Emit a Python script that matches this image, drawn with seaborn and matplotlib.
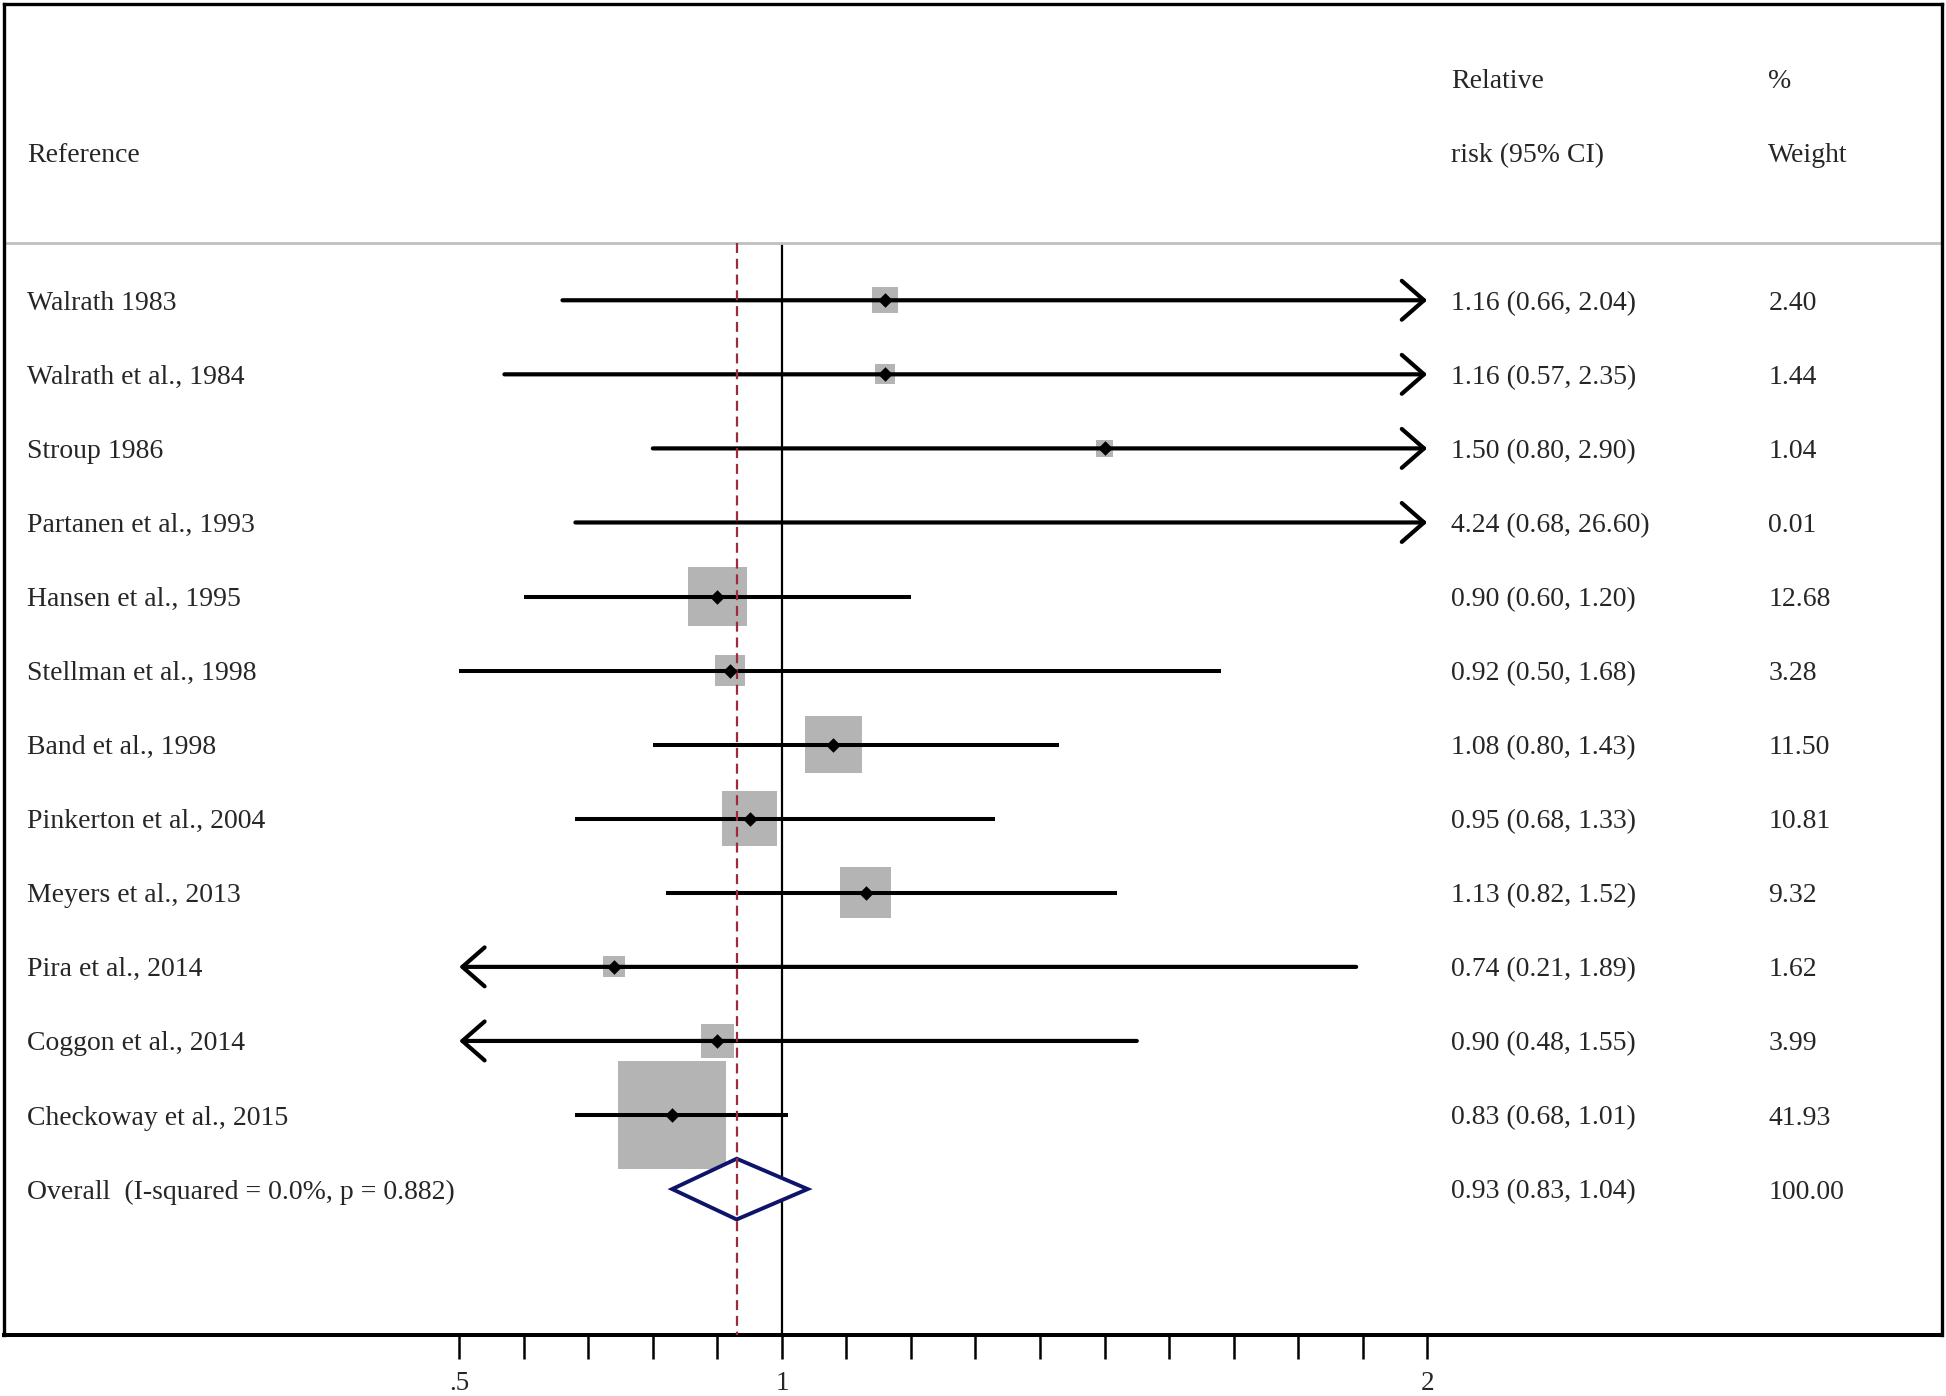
import numpy as np
import matplotlib
matplotlib.use('Agg')
import matplotlib.pyplot as plt
import seaborn as sns

# study-level data (relative risk, 95% CI, % weight)
studies = ['Walrath 1983', 'Walrath et al., 1984', 'Stroup 1986', 'Partanen et al., 1993',
           'Hansen et al., 1995', 'Stellman et al., 1998', 'Band et al., 1998',
           'Pinkerton et al., 2004', 'Meyers et al., 2013', 'Pira et al., 2014',
           'Coggon et al., 2014', 'Checkoway et al., 2015']
rr = [1.16, 1.16, 1.50, 4.24, 0.90, 0.92, 1.08, 0.95, 1.13, 0.74, 0.90, 0.83]
ci_low = [0.66, 0.57, 0.80, 0.68, 0.60, 0.50, 0.80, 0.68, 0.82, 0.21, 0.48, 0.68]
ci_high = [2.04, 2.35, 2.90, 26.60, 1.20, 1.68, 1.43, 1.33, 1.52, 1.89, 1.55, 1.01]
weights = [2.40, 1.44, 1.04, 0.01, 12.68, 3.28, 11.50, 10.81, 9.32, 1.62, 3.99, 41.93]

overall_label = 'Overall  (I-squared = 0.0%, p = 0.882)'
overall_rr = 0.93
overall_low = 0.83
overall_high = 1.04
overall_weight = 100.00

tick_values = [0.5, 0.6, 0.7, 0.8, 0.9, 1.0, 1.1, 1.2, 1.3, 1.4, 1.5, 1.6, 1.7, 1.8, 1.9, 2.0]
tick_labels = {0.5: '.5', 1.0: '1', 2.0: '2'}

x_min, x_max = 0.5, 2.0

sns.set_theme(style='white')
plt.rcParams['font.family'] = ['Liberation Serif', 'DejaVu Serif']

fig = plt.figure(figsize=(19.46, 13.96), dpi=100)
ax = fig.add_axes([0.00206, 0.0437, 0.99589, 0.95344])
ax.set_xlim(-0.2054, 2.7978)
ax.set_ylim(13.97, -4.0)

rows = np.arange(len(studies))
n = len(studies)
fs = 20
x_lab, x_rr, x_w = -0.1698, 2.0369, 2.5288
line_y = -0.77

# header
ax.text(x_lab, -2, 'Reference', fontsize=fs, va='center_baseline')
ax.text(x_rr, -3, 'Relative', fontsize=fs, va='center_baseline')
ax.text(x_rr, -2, 'risk (95% CI)', fontsize=fs, va='center_baseline')
ax.text(x_w, -3, '%', fontsize=fs, va='center_baseline')
ax.text(x_w, -2, 'Weight', fontsize=fs, va='center_baseline')
ax.axhline(line_y, color='#c0c0c0', lw=2.0)

# reference lines
ax.vlines(1.0, line_y, 13.97, color='black', lw=1.6, zorder=1)
ax.vlines(overall_rr, line_y, 13.97, color='#9b2d3a', lw=1.6,
          linestyles=(0, (4.5, 2.6)), zorder=4)

# weight boxes
rr_a = np.array(rr)
w_a = np.array(weights)
inside = (rr_a >= x_min) & (rr_a <= x_max)
sizes = 6050 * w_a[inside] / 41.93
sns.scatterplot(x=rr_a[inside], y=rows[inside], marker='s', s=sizes,
                color='#b4b4b4', linewidth=0, ax=ax, zorder=2, legend=False)

# confidence intervals
for i in range(n):
    lo, hi = ci_low[i], ci_high[i]
    lo_c, hi_c = max(lo, x_min), min(hi, x_max)
    left_arrow = lo < x_min
    right_arrow = hi > x_max
    if not left_arrow and not right_arrow:
        ax.plot([lo_c, hi_c], [i, i], color='black', lw=2.9,
                solid_capstyle='butt', zorder=3)
    else:
        if right_arrow and left_arrow:
            style, start, end = '<->', lo_c, hi_c
        elif right_arrow:
            style, start, end = '->', lo_c, hi_c
        else:
            style, start, end = '->', hi_c, lo_c
        ax.annotate('', xy=(end, i), xytext=(start, i),
                    arrowprops=dict(arrowstyle=style + ',head_length=16,head_width=14',
                                    mutation_scale=1, lw=3.0, color='black',
                                    shrinkA=0, shrinkB=0, capstyle='round'),
                    zorder=3)

# point estimates
sns.scatterplot(x=rr_a[inside], y=rows[inside], marker='D', s=55,
                color='black', linewidth=0, ax=ax, zorder=5, legend=False)

# overall diamond
oy = n
ax.fill([overall_low, overall_rr, overall_high, overall_rr],
        [oy, oy - 0.41, oy, oy + 0.41],
        facecolor='white', edgecolor='#0f146b', lw=2.8, joinstyle='miter', zorder=3)

# row texts
for i in range(n):
    ax.text(x_lab, i, studies[i], fontsize=fs, va='center_baseline')
    ax.text(x_rr, i, f'{rr[i]:.2f} ({ci_low[i]:.2f}, {ci_high[i]:.2f})',
            fontsize=fs, va='center_baseline')
    ax.text(x_w, i, f'{weights[i]:.2f}', fontsize=fs, va='center_baseline')
ax.text(x_lab, oy, overall_label, fontsize=fs, va='center_baseline')
ax.text(x_rr, oy, f'{overall_rr:.2f} ({overall_low:.2f}, {overall_high:.2f})',
        fontsize=fs, va='center_baseline')
ax.text(x_w, oy, f'{overall_weight:.2f}', fontsize=fs, va='center_baseline')

# axis
ax.set_xticks(tick_values)
ax.set_xticklabels([tick_labels.get(t, '') for t in tick_values])
ax.set_yticks([])
ax.tick_params(axis='x', bottom=True, direction='out', length=17, width=1.8,
               labelsize=19.5, pad=9, color='black')
ax.set_xlabel('')
ax.set_ylabel('')
for s in ax.spines.values():
    s.set_visible(True)
    s.set_color('black')
    s.set_linewidth(2.4)
ax.spines['bottom'].set_linewidth(2.9)

fig.savefig('out.png', dpi=100)
